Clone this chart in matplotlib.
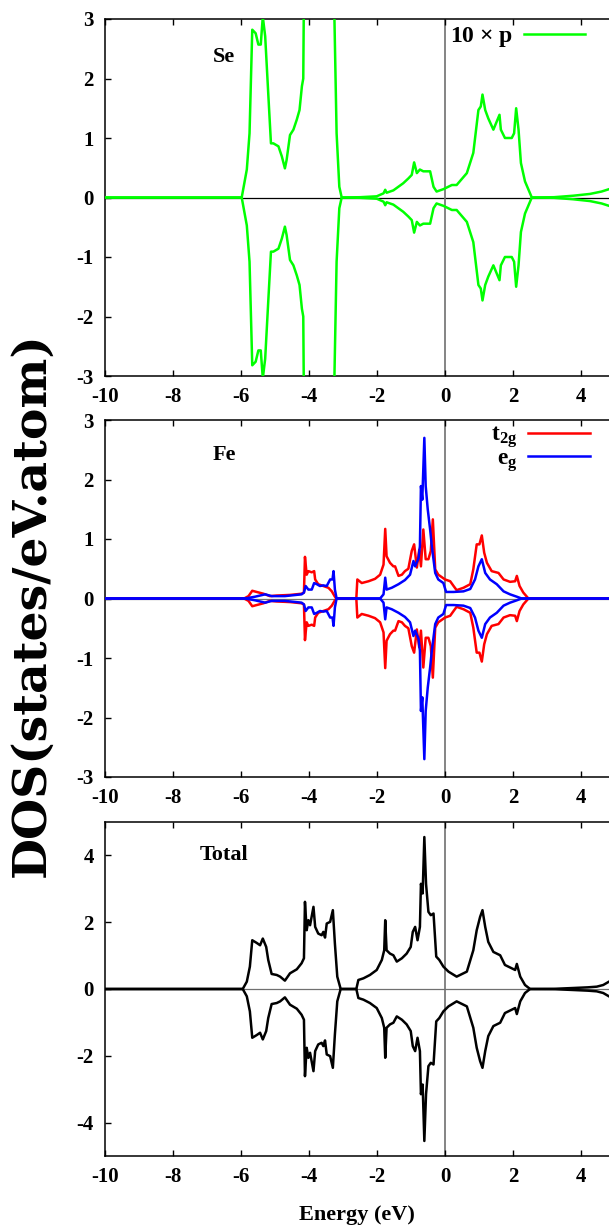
import numpy as np
import matplotlib
matplotlib.use("Agg")
import matplotlib.pyplot as plt

plt.rcParams['font.family'] = ['Liberation Serif', 'DejaVu Serif']
plt.rcParams['font.weight'] = 'bold'
plt.rcParams['axes.unicode_minus'] = False
plt.rcParams['mathtext.fontset'] = 'custom'
plt.rcParams['mathtext.rm'] = 'Liberation Serif:bold'
plt.rcParams['mathtext.bf'] = 'Liberation Serif:bold'
plt.rcParams['mathtext.it'] = 'Liberation Serif:bold'

# Se p (x10), spin-up half; spin-down is the mirror image
se_e = [-10, -5.98, -5.83, -5.75, -5.67, -5.57, -5.49, -5.42, -5.36, -5.29, -5.20,
        -5.12, -5.05, -4.90, -4.80, -4.71, -4.66, -4.56, -4.46, -4.36, -4.28, -4.21,
        -4.17, -4.15, -4.10, -3.90, -3.50, -3.30, -3.26, -3.19, -3.11, -3.04, -2.50,
        -2.01, -1.81, -1.76, -1.72, -1.52, -1.23, -1.08, -0.98, -0.91, -0.83, -0.74,
        -0.64, -0.44, -0.34, -0.25, -0.05, 0.20, 0.34, 0.64, 0.83, 0.98, 1.05, 1.10,
        1.18, 1.27, 1.42, 1.60, 1.64, 1.76, 1.96, 2.03, 2.09, 2.16, 2.23, 2.35, 2.55,
        3.20, 3.77, 4.26, 4.60, 4.82]
se_p = [0, 0, 0.47, 1.08, 2.82, 2.76, 2.57, 2.57, 3.04, 2.71, 1.75,
        0.91, 0.91, 0.86, 0.69, 0.49, 0.63, 1.05, 1.14, 1.31, 1.47, 1.87,
        2.00, 3.5, 6.0, 8.0, 7.0, 5.0, 3.2, 1.08, 0.18, 0, 0.005,
        0.02, 0.07, 0.13, 0.08, 0.12, 0.24, 0.32, 0.38, 0.59, 0.41, 0.47,
        0.44, 0.44, 0.18, 0.10, 0.14, 0.21, 0.21, 0.41, 0.75, 1.47, 1.53, 1.73,
        1.47, 1.33, 1.14, 1.39, 1.14, 1.00, 1.00, 1.08, 1.50, 1.14, 0.58, 0.27, 0,
        0.005, 0.03, 0.06, 0.10, 0.14]

# Fe t2g
t2g_e = [-10, -5.91, -5.78, -5.67, -5.54, -5.34, -5.15, -4.95, -4.56, -4.22, -4.15,
         -4.12, -4.07, -4.02, -3.92, -3.85, -3.82, -3.73, -3.58, -3.43, -3.33, -3.24,
         -3.19, -2.61, -2.58, -2.45, -2.25, -2.06, -1.91, -1.81, -1.76, -1.72, -1.62,
         -1.52, -1.47, -1.37, -1.27, -1.18, -1.08, -0.98, -0.91, -0.83, -0.76, -0.71,
         -0.64, -0.57, -0.49, -0.42, -0.36, -0.29, -0.20, 0.0, 0.15, 0.25, 0.34,
         0.54, 0.74, 0.83, 0.93, 1.01, 1.08, 1.15, 1.23, 1.37, 1.57, 1.72, 1.91,
         2.06, 2.11, 2.19, 2.30, 2.45, 4.82]
t2g = [0, 0, 0.04, 0.13, 0.11, 0.08, 0.04, 0.05, 0.06, 0.08, 0.10,
       0.70, 0.40, 0.46, 0.44, 0.46, 0.32, 0.24, 0.21, 0.18, 0.12, 0.03,
       0, 0, 0.32, 0.26, 0.29, 0.33, 0.40, 0.57, 1.17, 0.71, 0.60,
       0.54, 0.54, 0.38, 0.40, 0.46, 0.50, 0.80, 0.91, 0.52, 0.82, 0.54,
       1.16, 0.66, 0.66, 0.80, 1.33, 0.49, 0.40, 0.32, 0.29, 0.21, 0.14,
       0.18, 0.24, 0.49, 0.91, 0.91, 1.06, 0.77, 0.60, 0.46, 0.43, 0.32, 0.28,
       0.29, 0.38, 0.21, 0.10, 0, 0]

# Fe eg
eg_e = [-10, -5.88, -5.59, -5.29, -5.10, -4.71, -4.22, -4.15, -4.10, -4.02, -3.92,
        -3.85, -3.77, -3.68, -3.58, -3.48, -3.38, -3.31, -3.28, -3.24, -3.19, -1.91,
        -1.81, -1.76, -1.72, -1.57, -1.37, -1.18, -1.03, -0.93, -0.88, -0.78, -0.74,
        -0.71, -0.67, -0.61, -0.57, -0.51, -0.44, -0.39, -0.29, -0.20, -0.05, 0.03,
        0.25, 0.54, 0.74, 0.88, 0.98, 1.08, 1.18, 1.32, 1.52, 1.72, 1.91, 2.11,
        2.25, 4.82]
eg = [0, 0, 0.03, 0.07, 0.04, 0.04, 0.07, 0.10, 0.21, 0.15, 0.15,
      0.26, 0.24, 0.21, 0.22, 0.21, 0.32, 0.32, 0.46, 0.15, 0, 0,
      0.07, 0.35, 0.15, 0.18, 0.24, 0.31, 0.40, 0.63, 0.54, 0.68, 0.88,
      1.89, 1.66, 2.70, 1.89, 1.50, 1.16, 0.88, 0.43, 0.32, 0.26, 0.11,
      0.11, 0.12, 0.16, 0.32, 0.54, 0.66, 0.43, 0.32, 0.24, 0.12, 0.07, 0.03,
      0, 0]

# Total DOS
tot_e = [-10, -5.95, -5.83, -5.74, -5.67, -5.54, -5.44, -5.36, -5.26, -5.20, -5.10,
         -4.95, -4.85, -4.71, -4.56, -4.36, -4.22, -4.15, -4.12, -4.07, -4.02, -3.97,
         -3.87, -3.82, -3.73, -3.63, -3.58, -3.53, -3.48, -3.38, -3.30, -3.24, -3.17,
         -3.07, -2.61, -2.55, -2.40, -2.21, -2.01, -1.86, -1.79, -1.76, -1.72, -1.62,
         -1.52, -1.42, -1.27, -1.13, -1.01, -0.95, -0.88, -0.81, -0.74, -0.71, -0.66,
         -0.61, -0.56, -0.49, -0.42, -0.34, -0.26, -0.17, -0.05, 0.10, 0.34, 0.64,
         0.83, 0.93, 1.03, 1.10, 1.18, 1.27, 1.42, 1.62, 1.76, 1.96, 2.06, 2.11,
         2.21, 2.35, 2.50, 3.20, 3.77, 4.20, 4.46, 4.65, 4.82]
tot = [0, 0, 0.22, 0.67, 1.46, 1.38, 1.31, 1.51, 1.26, 0.87, 0.45,
       0.42, 0.37, 0.25, 0.47, 0.59, 0.77, 0.92, 2.61, 1.76, 2.06, 1.91,
       2.46, 1.86, 1.66, 1.61, 1.71, 1.54, 1.96, 2.01, 2.36, 1.36, 0.37,
       0, 0, 0.27, 0.32, 0.42, 0.57, 0.87, 1.16, 2.06, 1.16, 1.06,
       1.01, 0.82, 0.92, 1.06, 1.26, 1.71, 1.86, 1.46, 1.86, 3.15, 2.86,
       4.55, 3.15, 2.31, 2.21, 2.26, 0.97, 0.87, 0.67, 0.52, 0.37, 0.52,
       1.16, 1.76, 2.16, 2.36, 1.86, 1.41, 1.11, 1.01, 0.72, 0.62, 0.57, 0.75,
       0.37, 0.12, 0, 0.005, 0.03, 0.05, 0.07, 0.12, 0.22]

xticks = [-10, -8, -6, -4, -2, 0, 2, 4]

fig = plt.figure(figsize=(6.09, 12.30), dpi=100)
W = 504 / 609
ax1 = fig.add_axes([105 / 609, 1 - 376 / 1230, W, 357 / 1230])
ax2 = fig.add_axes([105 / 609, 1 - 777 / 1230, W, 357 / 1230])
ax3 = fig.add_axes([105 / 609, 1 - 1156 / 1230, W, 334 / 1230])


def style(ax, ylim, yticks, hcol):
    ax.set_xlim(-10, 4.82)
    ax.set_ylim(*ylim)
    ax.set_xticks(xticks)
    ax.set_yticks(yticks)
    ax.tick_params(direction='in', top=True, right=False, length=4, width=1,
                   labelsize=15, pad=8)
    ax.spines['right'].set_visible(False)
    for s in ['top', 'bottom', 'left']:
        ax.spines[s].set_linewidth(1.1)
    ax.axhline(0, color=hcol, lw=0.9, zorder=1)
    ax.axvline(0, color='#707070', lw=1.2, zorder=1)
    for lab in ax.get_xticklabels() + ax.get_yticklabels():
        lab.set_fontweight('bold')


LW = 1.8

# Se panel
ax1.plot(se_e, se_p, color='#00ff00', lw=LW, zorder=3, label=r'10 $\times$ p')
ax1.plot(se_e, -np.array(se_p), color='#00ff00', lw=LW, zorder=3)
style(ax1, (-3, 3), [-3, -2, -1, 0, 1, 2, 3], 'black')
ax1.text(-6.5, 2.36, 'Se', fontsize=16, fontweight='bold', ha='center', va='center')
ax1.legend(loc='upper right', bbox_to_anchor=(0.985, 1.03), frameon=False,
           markerfirst=False, fontsize=17, handlelength=2.6, handletextpad=0.45,
           borderaxespad=0.3)

# Fe panel
ax2.plot(t2g_e, t2g, color='#ff0000', lw=LW, zorder=3, label=r'$\mathbf{t_{2g}}$')
ax2.plot(t2g_e, -np.array(t2g), color='#ff0000', lw=LW, zorder=3)
ax2.plot(eg_e, eg, color='#0000ff', lw=LW, zorder=4, label=r'$\mathbf{e_{g}}$')
ax2.plot(eg_e, -np.array(eg), color='#0000ff', lw=LW, zorder=4)
style(ax2, (-3, 3), [-3, -2, -1, 0, 1, 2, 3], '#707070')
ax2.text(-6.5, 2.41, 'Fe', fontsize=16, fontweight='bold', ha='center', va='center')
ax2.legend(loc='upper right', bbox_to_anchor=(0.985, 1.02), frameon=False,
           markerfirst=False, fontsize=17, handlelength=2.6, handletextpad=0.45,
           borderaxespad=0.1, labelspacing=-0.1)

# Total panel
ax3.plot(tot_e, tot, color='black', lw=LW, zorder=3)
ax3.plot(tot_e, -np.array(tot), color='black', lw=LW, zorder=3)
style(ax3, (-5, 5), [-4, -2, 0, 2, 4], '#707070')
ax3.text(-6.5, 4.0, 'Total', fontsize=16, fontweight='bold', ha='center', va='center')
ax3.set_xlabel('Energy (eV)', fontsize=16, fontweight='bold', labelpad=13)

fig.text(31 / 609, 1 - 605 / 1230, 'DOS(states/eV.atom)', rotation=90,
         fontsize=34, fontweight='bold', family=['DejaVu Serif'],
         ha='center', va='center')

fig.savefig('out.png', dpi=100)
